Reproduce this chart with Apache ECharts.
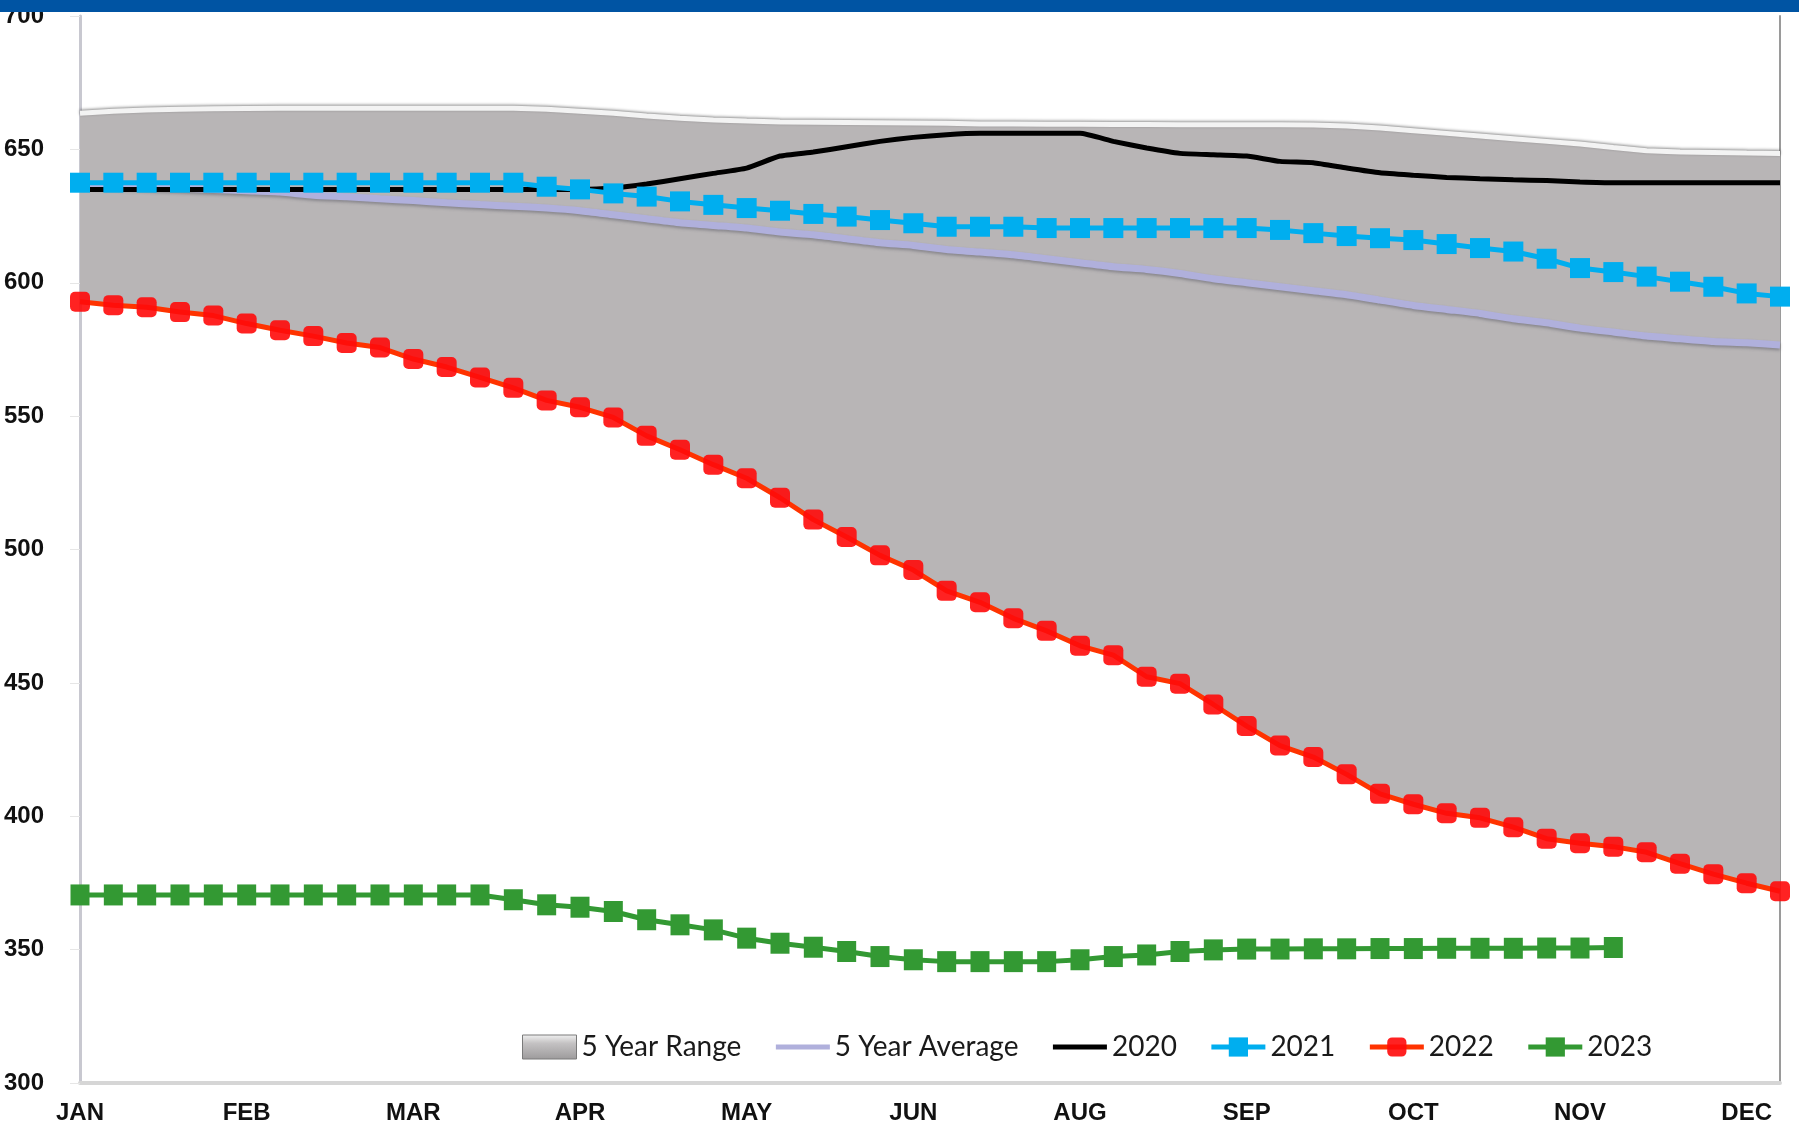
<!DOCTYPE html>
<html>
<head>
<meta charset="utf-8">
<script src="https://cdn.jsdelivr.net/npm/echarts@6/dist/echarts.min.js"></script>
<style>
html,body{margin:0;padding:0;background:#fff;}
#chart{width:1799px;height:1129px;}
</style>
</head>
<body>
<div id="chart"></div>
<script>
const weeks = [1,2,3,4,5,6,7,8,9,10,11,12,13,14,15,16,17,18,19,20,21,22,23,24,25,26,
  27,28,29,30,31,32,33,34,35,36,37,38,39,40,41,42,43,44,45,46,47,48,49,50,51,52];
const monthLabels = ['JAN','FEB','MAR','APR','MAY','JUN','AUG','SEP','OCT','NOV','DEC'];

const rangeHigh = [663.5,664.3,664.8,665.0,665.2,665.3,665.4,665.4,665.4,665.4,
  665.4,665.4,665.4,665.4,665.0,664.3,663.5,662.5,661.7,661.0,
  660.6,660.3,660.2,660.1,660.0,659.9,659.8,659.5,659.5,659.4,
  659.4,659.3,659.3,659.2,659.2,659.2,659.2,659.1,658.8,658.0,
  657.0,656.0,655.0,654.0,653.0,652.0,650.7,649.5,649.0,648.8,
  648.6,648.5];
const rangeLow = [592.9,591.6,590.8,589.0,587.7,584.7,582.2,580.0,577.4,575.7,
  571.4,568.4,564.5,560.6,555.9,553.3,549.5,542.6,537.4,531.8,
  526.7,519.4,511.2,504.7,497.8,492.3,484.5,480.2,474.2,469.5,
  463.9,460.4,452.3,449.7,441.9,433.8,426.5,422.2,415.7,408.4,
  404.5,401.1,399.4,395.9,391.6,389.9,388.6,386.5,382.2,378.3,
  374.9,371.9];
const avg5 = [637,636.5,636,635.5,635,634.5,634,632.8,632.2,631.5,
  630.8,630,629.3,628.7,628,627,625.5,624,622.5,621.5,
  620.5,619,618,616.5,615,614,612.5,611.5,610.5,609,
  607.5,606,605,603.5,601.5,600,598.5,597,595.5,593.5,
  591.5,590,588.5,586.5,585,583,581.5,580,579,578,
  577.5,576.7];
const y2020 = [635,635,635,635,635,635,635,635,635,635,
  635,635,635,635,635,635,635.5,637,639,641,
  643,647.5,649,651,653,654.5,655.5,656,656,656,
  656,653,650.5,648.5,648,647.5,645.5,645,643,641.2,
  640.3,639.5,639,638.6,638.3,637.8,637.5,637.5,637.5,637.5,
  637.5,637.5];
const y2021 = [637.5,637.5,637.5,637.5,637.5,637.5,637.5,637.5,637.5,637.5,
  637.5,637.5,637.5,637.5,636,635,633.5,632.3,630.5,629.2,
  628,627,625.8,624.8,623.5,622.3,621,621,621,620.5,
  620.5,620.5,620.5,620.5,620.5,620.5,619.8,618.6,617.5,616.7,
  616,614.5,613,611.7,609,605.5,604,602.3,600.4,598.5,
  596,594.8];
const y2022 = [592.9,591.6,590.8,589.0,587.7,584.7,582.2,580.0,577.4,575.7,
  571.4,568.4,564.5,560.6,555.9,553.3,549.5,542.6,537.4,531.8,
  526.7,519.4,511.2,504.7,497.8,492.3,484.5,480.2,474.2,469.5,
  463.9,460.4,452.3,449.7,441.9,433.8,426.5,422.2,415.7,408.4,
  404.5,401.1,399.4,395.9,391.6,389.9,388.6,386.5,382.2,378.3,
  374.9,371.9];
const y2023 = [370.5,370.5,370.5,370.5,370.5,370.5,370.5,370.5,370.5,370.5,
  370.5,370.5,370.5,368.7,366.8,365.9,364.3,361.2,359.3,357.4,
  354.3,352.4,350.9,349.3,347.4,346.2,345.5,345.5,345.5,345.5,
  346.2,347.4,348,349.3,349.9,350.2,350.2,350.3,350.3,350.4,
  350.4,350.5,350.5,350.5,350.6,350.6,350.8];

const rangeSpan = rangeHigh.map((v, i) => +(v - rangeLow[i]).toFixed(2));

const chart = echarts.init(document.getElementById('chart'));
const labelFont = '"Liberation Sans", Arial, sans-serif';

chart.setOption({
  animation: false,
  backgroundColor: '#ffffff',
  grid: { left: 80, right: 19, top: 16, bottom: 46, containLabel: false },
  xAxis: {
    type: 'category',
    data: weeks,
    boundaryGap: false,
    axisLine: { show: true, lineStyle: { color: '#d6d6d6', width: 4 } },
    axisTick: { show: false },
    splitLine: { show: false },
    axisLabel: {
      interval: 4,
      margin: 18,
      fontFamily: labelFont,
      fontWeight: 'bold',
      fontSize: 24,
      color: '#111',
      formatter: function (v, i) { return monthLabels[i / 5] || ''; }
    }
  },
  yAxis: [{
    type: 'value',
    min: 300, max: 700, interval: 50,
    axisLine: { show: true, lineStyle: { color: '#c8c8d0', width: 3 } },
    axisTick: { show: true, length: 10, lineStyle: { color: '#e6e6e6', width: 1 } },
    splitLine: { show: false },
    axisLabel: {
      align: 'left',
      margin: 76,
      fontFamily: labelFont,
      fontWeight: 'bold',
      fontSize: 24,
      color: '#111'
    }
  }, {
    type: 'value',
    position: 'right',
    min: 300, max: 700, interval: 50,
    axisLine: { show: true, lineStyle: { color: '#9a9a9a', width: 2 } },
    axisTick: { show: false },
    axisLabel: { show: false },
    splitLine: { show: false }
  }],
  legend: {
    left: 517,
    top: 1028,
    itemWidth: 54,
    itemHeight: 24,
    itemGap: 32,
    textStyle: { fontFamily: 'Lato, "Open Sans", sans-serif', fontSize: 28, color: '#1a1a1a' },
    data: [
      { name: '5 Year Range', icon: 'rect',
        itemStyle: { color: new echarts.graphic.LinearGradient(0, 0, 0, 1, [
          { offset: 0, color: '#f2f2f2' }, { offset: 0.35, color: '#c4c2c3' }, { offset: 1, color: '#9c9a9b' }
        ]), borderColor: '#7a7a7a', borderWidth: 1 } },
      { name: '5 Year Average', lineStyle: { width: 5 }, itemStyle: { opacity: 0 } },
      { name: '2020', lineStyle: { width: 5 }, itemStyle: { opacity: 0 } },
      { name: '2021', lineStyle: { width: 5 } },
      { name: '2022', lineStyle: { width: 5 } },
      { name: '2023', lineStyle: { width: 5 } }
    ]
  },
  graphic: [{
    type: 'rect', z: 100,
    shape: { x: 0, y: 0, width: 1799, height: 12 },
    style: { fill: '#0054a3' }
  }],
  series: [
    {
      name: 'rangeBase', type: 'line', stack: 'range', data: rangeLow,
      symbol: 'none', lineStyle: { opacity: 0 }, silent: true, z: 1
    },
    {
      name: '5 Year Range', type: 'line', stack: 'range', data: rangeSpan,
      symbol: 'none', z: 1,
      itemStyle: { color: '#b8b5b6' },
      lineStyle: { color: '#f3f3f3', width: 5, shadowColor: 'rgba(0,0,0,0.45)', shadowBlur: 3, shadowOffsetY: -1 },
      areaStyle: { color: '#b8b5b6', opacity: 1 }
    },
    {
      name: '5 Year Average', type: 'line', data: avg5, symbol: 'none', smooth: 0.2, z: 3,
      itemStyle: { color: '#b0b0dc' },
      lineStyle: { color: '#b0b0dc', width: 7, shadowColor: 'rgba(80,80,90,0.45)', shadowBlur: 3, shadowOffsetY: 2 }
    },
    {
      name: '2020', type: 'line', data: y2020, symbol: 'none', smooth: 0.15, z: 4,
      itemStyle: { color: '#000000' },
      lineStyle: { color: '#000000', width: 5 }
    },
    {
      name: '2021', type: 'line', data: y2021, symbol: 'rect', symbolSize: 20, z: 5,
      itemStyle: { color: '#00aeef' },
      lineStyle: { color: '#00aeef', width: 5 }
    },
    {
      name: '2022', type: 'line', data: y2022, symbol: 'roundRect', symbolSize: 20, z: 6,
      itemStyle: { color: 'rgba(255,10,10,0.9)' },
      lineStyle: { color: '#ff3300', width: 5 }
    },
    {
      name: '2023', type: 'line', data: y2023, symbol: 'rect', symbolSize: [19, 21], z: 7,
      itemStyle: { color: '#339933' },
      lineStyle: { color: '#339933', width: 5 }
    }
  ]
});
</script>
</body>
</html>
